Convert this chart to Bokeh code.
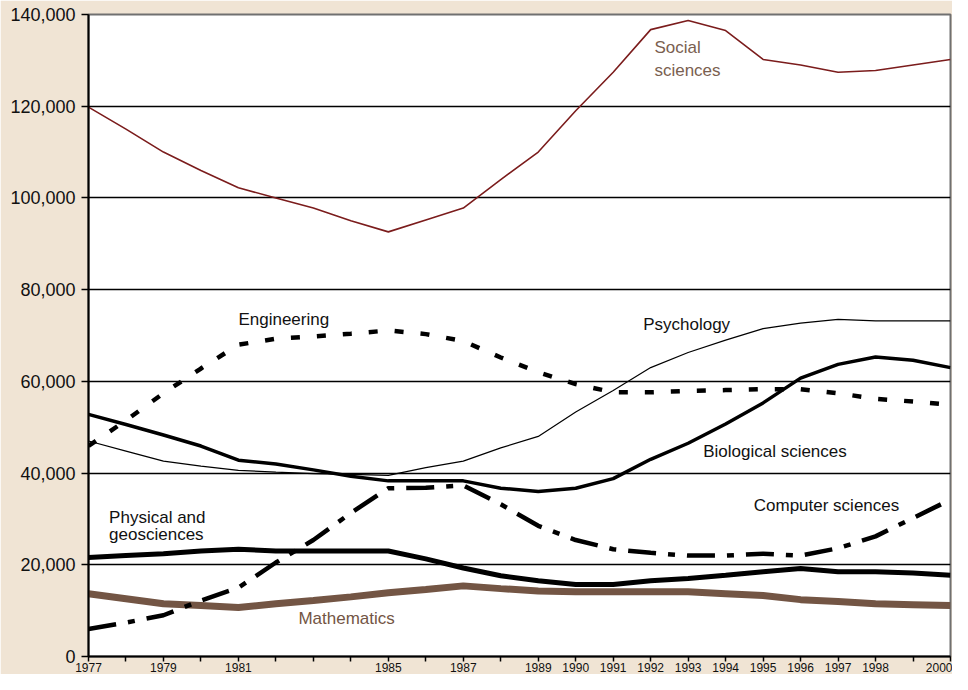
from bokeh.plotting import figure
from bokeh.models import FixedTicker, NumeralTickFormatter, Range1d
from bokeh.embed import file_html
from bokeh.resources import INLINE
from bokeh.core.properties import value

years = list(range(1977, 2001))
labeled_years = [1977, 1979, 1981, 1985, 1987, 1989, 1990, 1991, 1992, 1993,
                 1994, 1995, 1996, 1997, 1998, 2000]
y_ticks = [0, 20000, 40000, 60000, 80000, 100000, 120000, 140000]

social = [119800, 115000, 110000, 106000, 102200, 100000, 97800, 95000, 92600, 95200,
          97800, 104000, 110000, 119000, 127400, 136700, 138700, 136500, 130200, 129000,
          127400, 127800, 129000, 130200]
psychology = [47000, 44800, 42600, 41500, 40600, 40200, 39900, 39700, 39500, 41200,
              42600, 45500, 48000, 53300, 58000, 63000, 66300, 69000, 71500, 72700,
              73500, 73200, 73200, 73200]
engineering = [45900, 51500, 57400, 62800, 68000, 69300, 69800, 70400, 71100, 70300,
               68800, 65200, 62000, 59400, 57600, 57600, 57900, 58100, 58300, 58300,
               57400, 56200, 55600, 54900]
biological = [52800, 50600, 48300, 45900, 42800, 42000, 40700, 39300, 38300, 38300,
              38300, 36700, 36000, 36700, 38800, 43000, 46500, 50700, 55300, 60700,
              63700, 65300, 64600, 63000]
computer = [6000, 7400, 9000, 12200, 15000, 20500, 25400, 31300, 36700, 36800,
            37300, 33200, 28500, 25400, 23400, 22600, 22000, 22000, 22400, 22000,
            23600, 26200, 30200, 34200]
physical = [21600, 22000, 22400, 23000, 23400, 23000, 23000, 23000, 23000, 21300,
            19300, 17600, 16500, 15700, 15700, 16500, 17000, 17700, 18500, 19200,
            18500, 18500, 18200, 17700]
mathematics = [13700, 12600, 11500, 11100, 10700, 11500, 12200, 13000, 13900, 14600,
               15400, 14800, 14300, 14100, 14100, 14100, 14100, 13700, 13300, 12400,
               12000, 11500, 11300, 11100]

# label annotations: (text, year-position, value-position, colour)
label_text = ["Social", "sciences", "Engineering", "Psychology", "Biological sciences",
              "Computer sciences", "Physical and", "geosciences", "Mathematics"]
label_x = [1992.1, 1992.1, 1981.0, 1991.8, 1993.4, 1994.75, 1977.55, 1977.55, 1982.6]
label_y = [132800, 127800, 73500, 72400, 44800, 33000, 30400, 26500, 8300]
label_color = ["#7a6050", "#7a6050", "#111111", "#111111", "#111111", "#111111",
               "#111111", "#111111", "#735544"]

BEIGE = "#f0e4d4"

p = figure(width=952, height=674, output_backend="svg", toolbar_location=None,
           x_range=Range1d(1977, 2000), y_range=Range1d(0, 140000),
           min_border_left=88, min_border_right=2, min_border_top=14, min_border_bottom=18)
p.background_fill_color = "white"
p.border_fill_color = BEIGE
p.outline_line_color = "#707070"
p.outline_line_width = 2

p.xgrid.grid_line_color = None
p.ygrid.grid_line_color = "black"
p.ygrid.grid_line_width = 1.6
p.ygrid.ticker = FixedTicker(ticks=y_ticks)

p.yaxis.ticker = FixedTicker(ticks=y_ticks)
p.yaxis.formatter = NumeralTickFormatter(format="0,0")
p.yaxis.axis_line_color = "black"
p.yaxis.axis_line_width = 2
p.yaxis.major_tick_in = 0
p.yaxis.major_tick_out = 7
p.yaxis.major_tick_line_width = 1.5
p.yaxis.minor_tick_line_color = None
p.yaxis.major_label_text_font = "Liberation Sans"
p.yaxis.major_label_text_font_size = "18px"
p.yaxis.major_label_text_color = "#111111"
p.yaxis.major_label_standoff = 6

p.xaxis.ticker = FixedTicker(ticks=years)
p.xaxis.major_label_overrides = {y: (str(y) if y in labeled_years else "") for y in years}
p.xaxis.axis_line_color = "black"
p.xaxis.axis_line_width = 2
p.xaxis.major_tick_in = 0
p.xaxis.major_tick_out = 5
p.xaxis.major_tick_line_width = 1.5
p.xaxis.minor_tick_line_color = None
p.xaxis.major_label_text_font = "Liberation Sans Narrow, Liberation Sans"
p.xaxis.major_label_text_font_size = "12px"
p.xaxis.major_label_text_color = "#111111"
p.xaxis.major_label_standoff = 1

p.line(years, social, line_color="#7b1c1c", line_width=1.6)
p.line(years, psychology, line_color="black", line_width=1.2)
p.line(years, biological, line_color="black", line_width=3.5)
p.line(years, physical, line_color="black", line_width=5)
p.line(years, mathematics, line_color="#735544", line_width=7)
p.line(years, engineering, line_color="black", line_width=4.5, line_dash="9 17")
p.line(years, computer, line_color="black", line_width=4.5, line_dash="28 12 7 12")

p.text(label_x, label_y, text=label_text, text_color=label_color,
       text_font=value("Liberation Sans"), text_font_size="17px",
       text_baseline="middle", text_align="left")

open("out.html", "w").write(file_html(p, INLINE))
